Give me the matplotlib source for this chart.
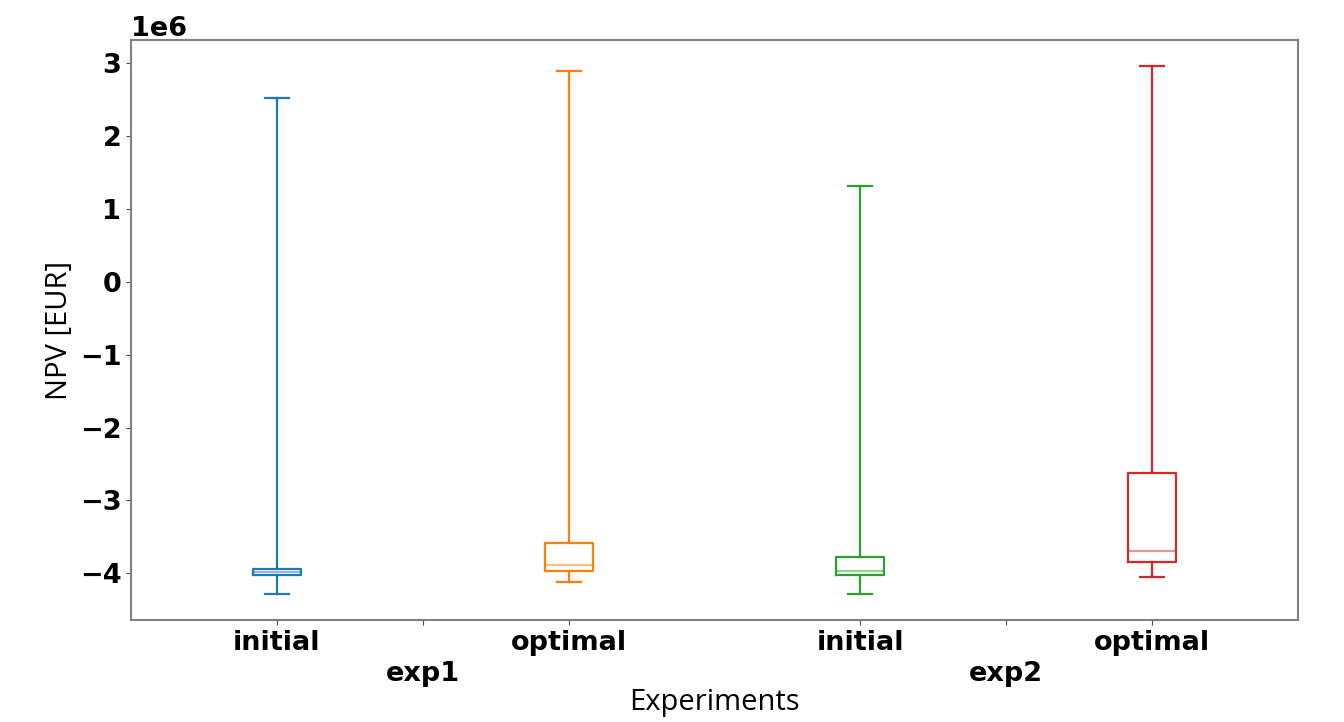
import matplotlib.pyplot as plt
from matplotlib.ticker import FixedLocator

# box statistics (NPV in EUR)
labels = ["initial", "optimal", "initial", "optimal"]
groups = ["exp1", "exp2"]
whislo = [-4.28e6, -4.12e6, -4.28e6, -4.05e6]
q1 = [-4.02e6, -3.97e6, -4.02e6, -3.85e6]
med = [-3.98e6, -3.89e6, -3.97e6, -3.70e6]
q3 = [-3.94e6, -3.58e6, -3.78e6, -2.62e6]
whishi = [2.53e6, 2.90e6, 1.32e6, 2.96e6]
colors = ["tab:blue", "tab:orange", "tab:green", "tab:red"]

stats = []
for i in range(len(labels)):
    stats.append({"label": labels[i], "whislo": whislo[i], "q1": q1[i], "med": med[i],
                  "q3": q3[i], "whishi": whishi[i], "fliers": []})

fig = plt.figure(figsize=(13.44, 7.22), dpi=100)
ax = fig.add_axes([0.0975, 0.1413, 0.8683, 0.8033])

positions = [1, 2, 3, 4]
bp = ax.bxp(stats, positions=positions, widths=0.165, showfliers=False, patch_artist=False)

for i, c in enumerate(colors):
    bp["boxes"][i].set(color=c, linewidth=1.6)
    bp["medians"][i].set(color=c, linewidth=1.6, alpha=0.5)
    for j in (2 * i, 2 * i + 1):
        bp["whiskers"][j].set(color=c, linewidth=1.6)
        bp["caps"][j].set(color=c, linewidth=1.6)

ax.set_xlim(0.5, 4.5)
ax.set_xticks(positions)
ax.set_xticklabels(labels, fontsize=19.5, fontweight="bold")
ax.xaxis.set_minor_locator(FixedLocator([1.5, 3.5]))
ax.set_xticklabels(groups, minor=True, fontsize=19.5, fontweight="bold")
ax.tick_params(axis="x", which="minor", length=3.5, pad=26, width=0.8, color="0.3")
ax.tick_params(axis="x", which="major", length=3.5, width=0.8, color="0.3")
ax.tick_params(axis="y", labelsize=19.5, length=3.5, width=0.8, color="0.3")
for t in ax.get_yticklabels():
    t.set_fontweight("bold")
ax.yaxis.get_offset_text().set_fontsize(19.5)
ax.yaxis.get_offset_text().set_fontweight("bold")

for s in ax.spines.values():
    s.set_color("0.5")
    s.set_linewidth(1.5)

ax.set_xlabel("Experiments", fontsize=21, family="Open Sans", labelpad=1)
ax.set_ylabel("NPV [EUR]", fontsize=21, family="Open Sans")

fig.savefig("out.png", dpi=100)
